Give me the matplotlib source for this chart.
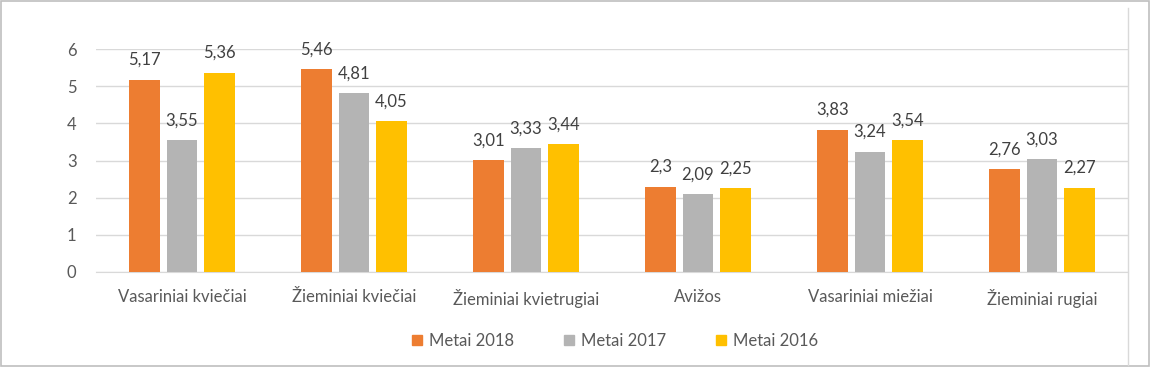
import matplotlib
matplotlib.use("Agg")
import matplotlib.pyplot as plt
from matplotlib.lines import Line2D
from matplotlib.patches import Rectangle
import numpy as np

categories = ["Vasariniai kviečiai", "Žieminiai kviečiai", "Žieminiai kvietrugiai",
              "Avižos", "Vasariniai miežiai", "Žieminiai rugiai"]
series_names = ["Metai 2018", "Metai 2017", "Metai 2016"]
v2018 = [5.17, 5.46, 3.01, 2.30, 3.83, 2.76]
v2017 = [3.55, 4.81, 3.33, 2.09, 3.24, 3.03]
v2016 = [5.36, 4.05, 3.44, 2.25, 3.54, 2.27]
labels2018 = ["5,17", "5,46", "3,01", "2,3", "3,83", "2,76"]
labels2017 = ["3,55", "4,81", "3,33", "2,09", "3,24", "3,03"]
labels2016 = ["5,36", "4,05", "3,44", "2,25", "3,54", "2,27"]
colors = ["#ED7D31", "#B4B4B4", "#FFC000"]

plt.rcParams['font.family'] = ['Lato', 'DejaVu Sans']
fig = plt.figure(figsize=(11.5, 3.67), dpi=100)
ax = fig.add_axes([96/1150, 1-272/367, (1128-96)/1150, (272-49)/367])

x = np.arange(len(categories))
bw = 0.175
off = 0.218
text_c = "#404040"
fs = 12
for i, (vals, labs) in enumerate([(v2018, labels2018), (v2017, labels2017), (v2016, labels2016)]):
    pos = x + (i - 1) * off
    ax.bar(pos, vals, width=bw, color=colors[i], zorder=3, label=series_names[i])
    for p, v, l in zip(pos, vals, labs):
        ax.annotate(l, (p, v), xytext=(0, 8.5), textcoords="offset points",
                    ha="center", va="bottom", fontsize=fs, color=text_c)

ax.set_xlim(-0.5, len(categories) - 0.5)
ax.set_ylim(0, 6)
ax.set_yticks(range(0, 7))
ax.set_xticks(x)
ax.set_xticklabels(categories)
ax.tick_params(axis="both", length=0, labelsize=fs, colors="#595959")
ax.tick_params(axis="y", pad=14)
ax.tick_params(axis="x", pad=12)
ax.grid(axis="y", color="#D9D9D9", linewidth=1, zorder=0)
for s in ["top", "right", "left"]:
    ax.spines[s].set_visible(False)
ax.spines["bottom"].set_color("#D9D9D9")

handles = [Rectangle((0, 0), 1, 1, color=c) for c in colors]
fig.legend(handles, series_names, loc="center", bbox_to_anchor=(615/1150, 1-341/367),
           ncol=3, frameon=False, fontsize=fs, handlelength=0.6, handleheight=0.6,
           columnspacing=3.0, handletextpad=0.4, labelcolor="#595959")

fig.add_artist(Line2D([1128/1150, 1128/1150], [1-8/367, 1-365/367], color="#D9D9D9", lw=1))
fig.add_artist(Rectangle((0.0005, 0.0015), 0.999, 0.997, fill=False, edgecolor="#BFBFBF", lw=1.2,
                         transform=fig.transFigure))
fig.savefig("out.png", dpi=100)
